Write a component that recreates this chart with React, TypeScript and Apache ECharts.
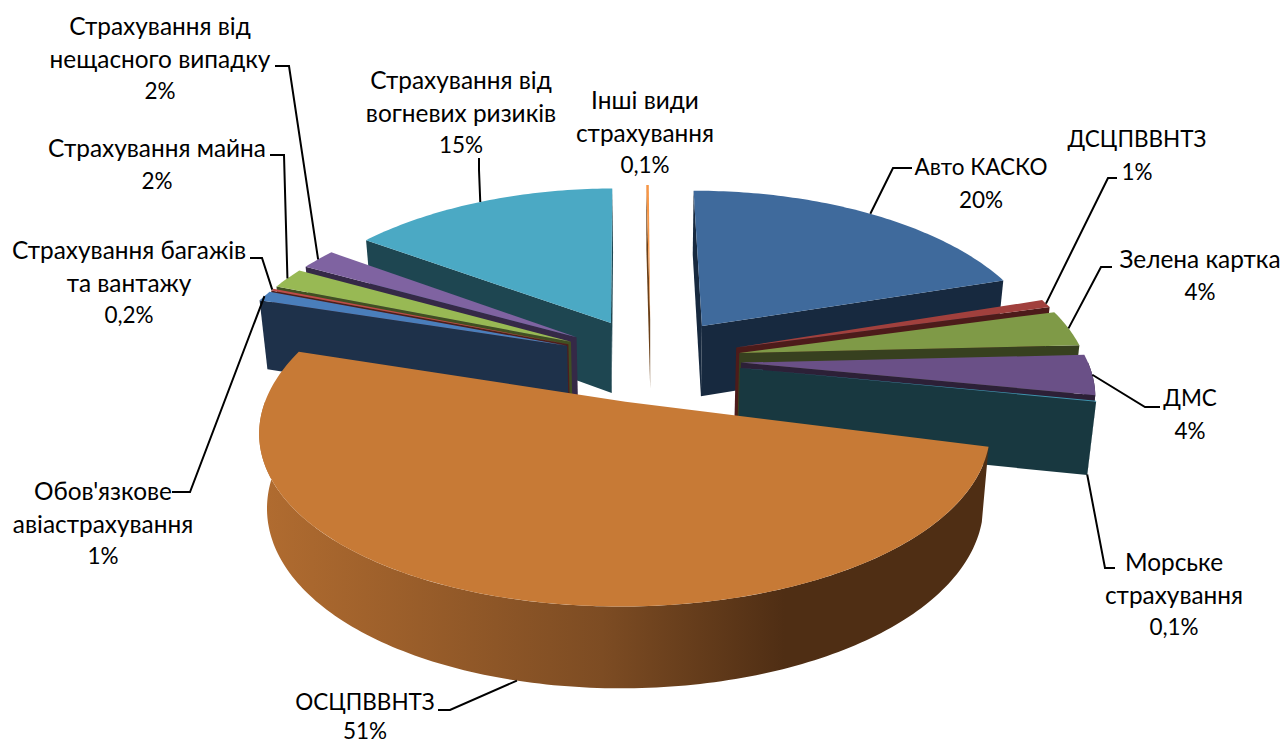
import React, { useEffect, useRef } from "react";
import * as echarts from "echarts";

// Data
const categories = [
  "Авто КАСКО", "ДСЦПВВНТЗ", "Зелена картка", "ДМС", "Морське страхування", "ОСЦПВВНТЗ",
  "Обов'язкове авіастрахування", "Страхування багажів та вантажу", "Страхування майна",
  "Страхування від нещасного випадку", "Страхування від вогневих ризиків", "Інші види страхування",
];
const values = [20.3, 0.8, 3.5, 3.9, 0.1, 51.4, 1, 0.2, 2, 2, 15, 0.14];
const percentLabels = ["20%", "1%", "4%", "4%", "0,1%", "51%", "1%", "0,2%", "2%", "2%", "15%", "0,1%"];
const labelLines = [
  ["Авто КАСКО"], ["ДСЦПВВНТЗ"], ["Зелена картка"], ["ДМС"], ["Морське", "страхування"], ["ОСЦПВВНТЗ"],
  ["Обов'язкове", "авіастрахування"], ["Страхування багажів", "та вантажу"], ["Страхування майна"],
  ["Страхування від", "нещасного випадку"], ["Страхування від", "вогневих ризиків"], ["Інші види", "страхування"],
];

// Styles
const topColors = ["#3F6A9C", "#A1403D", "#7F9A47", "#6A5087", "#3C96AE", "#C77A36", "#4A7EBB", "#BE4B48", "#98B954", "#7F63A1", "#4BA9C4", "#F79646"];
const wallColors = ["#17293F", "#4D1B1A", "#37401F", "#2C2037", "#183840", "#4F2E14", "#1E314A", "#4D1E1D", "#404F22", "#352947", "#1E4651", "#6B4018"];
const drawOrder = [0, 11, 10, 1, 9, 2, 8, 3, 7, 4, 6, 5];
// the perspective of the original opens a small hidden gap before the largest slice
const gapBefore = [0, 0, 0, 0, 0, 0.8, 0, 0, 0, 0, 0, 0];
// label block centre [x, y], elbow and start of the leader
const labelCentres = [[981, 183], [1137, 155], [1200, 275], [1190, 414], [1174, 594], [365, 715.5], [103, 523], [129, 282], [157, 164], [160, 58], [461, 112], [645, 132]];
const labelLineHeights = [32.2, 32.2, 32.2, 32.2, 32.2, 29, 32.2, 32.2, 32.2, 32.2, 32.2, 32.2];
const labelFontSizes = [22.5, 22.5, 24.4, 22.5, 24.4, 22.5, 24.4, 24.4, 24.4, 24.4, 24.4, 24.4];
const leaderStart: (number[] | null)[] = [[912, 168], [1117, 178], [1112, 267], [1160, 407], [1115, 568], [438, 710], [172, 492], [250, 258], [270, 155], [275, 66], [479, 158], null];
const leaderElbow: (number[] | null)[] = [[893, 168], [1108, 178], [1101, 267], [1145, 407], [1105, 568], [450, 710], [190, 492], [262, 258], [284, 155], [289, 66], [479, 170], null];
const leaderOnBase = [false, false, false, false, true, true, false, false, false, false, false, false];
const leaderAngleShift = [0, 0, 0, 0, 0, -1.5, 0, 0, 0, 0, 0, 0];

// Projection parameters
const CX = 651, CY = 359.5, BX = 346, AY = 163, PERSP = 0.14, PERSP_X = 0.16, DEPTH = 71.5, SHRINK = 0.02, EXPLODE = 0.26, ROT = -0.3;
const total = values.reduce((a, b) => a + b, 0) + gapBefore.reduce((a, b) => a + b, 0);
const rad = (d: number) => (d * Math.PI) / 180;
const project = (X: number, Y: number, z: number) => {
  const s = 1 / (1 - PERSP * Y);
  const sx = 1 / (1 - PERSP_X * Y);
  const f = 1 - SHRINK * z;
  return [CX + BX * X * sx * f, CY + AY * Y * s + DEPTH * z * Math.pow(s, 0.7)];
};
const sliceGeom = (i: number) => {
  let before = gapBefore[i];
  for (let k = 0; k < i; k++) before += values[k] + gapBefore[k];
  const a0 = ROT + (before / total) * 360;
  const a1 = a0 + (values[i] / total) * 360;
  const mid = rad((a0 + a1) / 2);
  return { a0, a1, ax: EXPLODE * Math.sin(mid), ay: -EXPLODE * Math.cos(mid), mid };
};
const rimPoint = (g: any, deg: number, z: number) =>
  project(g.ax + Math.sin(rad(deg)), g.ay - Math.cos(rad(deg)), z);
const area = (p: number[][]) => {
  let t = 0;
  for (let i = 0; i < p.length; i++) {
    const q = p[(i + 1) % p.length];
    t += p[i][0] * q[1] - q[0] * p[i][1];
  }
  return t / 2;
};
const arcDegrees = (a0: number, a1: number) => {
  const out: number[] = [];
  const n = Math.max(2, Math.ceil(a1 - a0));
  for (let k = 0; k <= n; k++) out.push(a0 + ((a1 - a0) * k) / n);
  return out;
};

function renderSlice(_params: any, api: any) {
  const i = api.value(1) as number;
  const g = sliceGeom(i);
  const children: any[] = [];
  const poly = (points: number[][], fill: any) =>
    children.push({ type: "polygon", silent: true, shape: { points }, style: { fill, stroke: "none" } });
  const apexT = project(g.ax, g.ay, 0);
  const apexB = project(g.ax, g.ay, 1);
  const wall = wallColors[i];
  // cut faces
  const startQ = [apexT, rimPoint(g, g.a0, 0), rimPoint(g, g.a0, 1), apexB];
  const endQ = [apexT, rimPoint(g, g.a1, 0), rimPoint(g, g.a1, 1), apexB];
  if (area(startQ) < 0) poly(startQ, wall);
  if (area(endQ) > 0) poly(endQ, wall);
  // outer wall, only the part turned to the viewer
  const from = Math.max(g.a0, 90);
  const to = Math.min(g.a1, 270);
  if (to > from) {
    const ds = arcDegrees(from, to);
    const pts = [...ds.map((d) => rimPoint(g, d, 0)), ...ds.slice().reverse().map((d) => rimPoint(g, d, 1))];
    const fill = i === 5
      ? { type: "linear", x: 0, y: 0, x2: 1, y2: 0, colorStops: [
          { offset: 0, color: "#B16C30" }, { offset: 0.47, color: "#7D4C23" }, { offset: 0.72, color: "#4F2E14" }, { offset: 1, color: "#4F2E14" },
        ] }
      : wall;
    poly(pts, fill);
  }
  // top face
  poly([apexT, ...arcDegrees(g.a0, g.a1).map((d) => rimPoint(g, d, 0))], topColors[i]);
  return { type: "group", children };
}

const FONT = 'Lato, "Open Sans", "Noto Sans", sans-serif';

export default function App() {
  const ref = useRef<HTMLDivElement>(null);
  useEffect(() => {
    document.body.style.margin = "0";
    const chart = echarts.init(ref.current!, undefined, { renderer: "svg" });
    const graphics: any[] = [];
    categories.forEach((_c, i) => {
      const start = leaderStart[i];
      const elbow = leaderElbow[i];
      if (start && elbow) {
        const g = sliceGeom(i);
        const deg = (g.a0 + g.a1) / 2 + leaderAngleShift[i];
        const anchor = rimPoint(g, deg, leaderOnBase[i] ? 1 : 0);
        graphics.push({
          type: "polyline", z: 10, silent: true,
          shape: { points: [start, elbow, anchor] },
          style: { stroke: "#000", lineWidth: 2, fill: "none" },
        });
      }
      const lines = [...labelLines[i], percentLabels[i]];
      lines.forEach((line, k) => {
        const size = k === lines.length - 1 ? 22.5 : labelFontSizes[i];
        graphics.push({
          type: "text", z: 11, silent: true,
          x: labelCentres[i][0],
          y: labelCentres[i][1] + (k - (lines.length - 1) / 2) * labelLineHeights[i],
          style: {
            text: line, font: `${size}px ${FONT}`, fill: "#000",
            textAlign: "center", textVerticalAlign: "middle",
          },
        });
      });
    });
    chart.setOption({
      animation: false,
      backgroundColor: "#fff",
      series: [{
        type: "custom",
        coordinateSystem: "none",
        silent: true,
        renderItem: renderSlice,
        data: drawOrder.map((i) => ({ name: categories[i], value: [values[i], i] })),
      }],
      graphic: graphics,
    });
    return () => chart.dispose();
  }, []);
  return <div ref={ref} style={{ width: 1283, height: 744 }} />;
}
